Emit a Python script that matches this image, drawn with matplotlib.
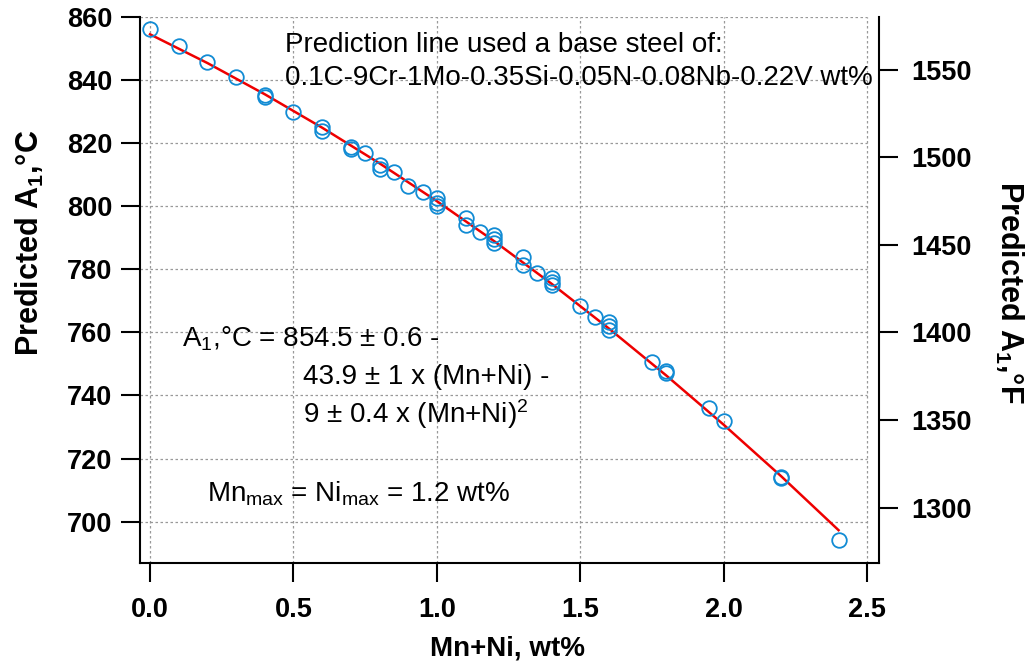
import numpy as np
import matplotlib
matplotlib.use('Agg')
import matplotlib.pyplot as plt

plt.rcParams['font.family'] = ['Liberation Sans', 'DejaVu Sans']
plt.rcParams['mathtext.fontset'] = 'custom'
plt.rcParams['mathtext.rm'] = 'Liberation Sans'
plt.rcParams['mathtext.it'] = 'Liberation Sans:italic'
plt.rcParams['mathtext.bf'] = 'Liberation Sans:bold'
plt.rcParams['mathtext.default'] = 'regular'

# data points (Mn+Ni, predicted A1 in C)
mn_ni = [0.0, 0.1, 0.2, 0.3, 0.4, 0.4, 0.5, 0.6, 0.6, 0.7, 0.7, 0.75, 0.8, 0.8,
         0.85, 0.9, 0.95, 1.0, 1.0, 1.0, 1.1, 1.1, 1.15, 1.2, 1.2, 1.2, 1.3, 1.3,
         1.35, 1.4, 1.4, 1.4, 1.5, 1.55, 1.6, 1.6, 1.6, 1.75, 1.8, 1.8, 1.95, 2.0,
         2.2, 2.2, 2.4]
a1_c = [856.2, 850.8, 845.7, 841.0, 835.4, 834.7, 830.0, 825.0, 823.7, 818.9,
        818.3, 816.8, 813.2, 811.9, 810.8, 806.3, 804.4, 802.7, 801.1, 800.1,
        796.2, 793.9, 791.7, 790.9, 789.5, 788.2, 783.8, 781.4, 778.7, 777.2,
        776.1, 775.0, 768.4, 765.0, 763.2, 762.0, 760.9, 750.7, 747.9, 747.1,
        736.1, 731.9, 714.2, 713.7, 694.2]

# prediction line
fit_x = [0.0, 0.2, 0.4, 0.6, 0.8, 1.0, 1.2, 1.4, 1.6, 1.8, 2.0, 2.2, 2.4]
fit_y = [854.5, 845.4, 835.5, 824.9, 813.6, 801.6, 788.9, 775.4, 761.2, 746.3,
         730.7, 714.4, 697.3]

x_ticks = [0.0, 0.5, 1.0, 1.5, 2.0, 2.5]
y_ticks = [700, 720, 740, 760, 780, 800, 820, 840, 860]
f_ticks = [1300, 1350, 1400, 1450, 1500, 1550]

ylo, yhi = 686.9, 860.0

fig = plt.figure(figsize=(10.29, 6.66), dpi=100)
ax = fig.add_axes([0.1356, 0.1547, 0.7189, 0.8198])
ax.set_xlim(-0.0366, 2.542)
ax.set_ylim(ylo, yhi)

grid_kw = dict(color='#999999', linewidth=0.9, linestyle=(0, (2, 2)), zorder=0)
ax.hlines(y_ticks, ax.get_xlim()[0], x_ticks[-1], **grid_kw)
ax.vlines(x_ticks, ylo, yhi, **grid_kw)

ax.plot(fit_x, fit_y, color='#ee0000', linewidth=1.8, zorder=2)
ax.plot(mn_ni, a1_c, linestyle='none', marker='o', markersize=10.5,
        markerfacecolor='none', markeredgecolor='#118bd4', markeredgewidth=1.3,
        clip_on=False, zorder=3)

ax.set_xticks(x_ticks, labels=[f'{v:.1f}' for v in x_ticks], fontweight='bold')
ax.set_yticks(y_ticks, labels=[str(v) for v in y_ticks], fontweight='bold')
ax.tick_params(axis='both', direction='out', length=13.7, width=1.5, labelsize=19.5)
ax.tick_params(axis='x', pad=11)
ax.tick_params(axis='y', pad=6)
ax.spines['top'].set_visible(False)
ax.spines['right'].set_visible(False)
for s in ['left', 'bottom']:
    ax.spines[s].set_linewidth(1.5)

ax2 = ax.twinx()
ax2.set_ylim(ylo * 1.8 + 32, yhi * 1.8 + 32)
ax2.set_yticks(f_ticks, labels=[str(v) for v in f_ticks], fontweight='bold')
ax2.tick_params(axis='y', direction='out', length=13.7, width=1.5, labelsize=19.5, pad=9)
for s in ['top', 'left', 'bottom']:
    ax2.spines[s].set_visible(False)
ax2.spines['right'].set_linewidth(1.5)

ax.set_xlabel('Mn+Ni, wt%', fontsize=20, fontweight='bold', va='center')
ax.xaxis.set_label_coords(0.498, -0.156)
ax.set_ylabel(r'Predicted A$_\mathbf{1}$,°C', fontsize=22, fontweight='bold', va='center')
ax.yaxis.set_label_coords(-0.148, 0.586)
ax2.set_ylabel(r'Predicted A$_\mathbf{1}$,°F', fontsize=22, fontweight='bold',
               rotation=270, va='center')
ax2.yaxis.set_label_coords(1.176, 0.495)

tkw = dict(transform=ax.transAxes, fontsize=20, va='baseline', ha='left')
ax.text(0.1967, 0.9359, 'Prediction line used a base steel of:', **tkw)
ax.text(0.1967, 0.8755, '0.1C-9Cr-1Mo-0.35Si-0.05N-0.08Nb-0.22V wt%', **tkw)
ax.text(0.0570, 0.3956, r'A$_1$,°C = 854.5 ± 0.6 -', **tkw)
ax.text(0.2214, 0.3278, '43.9 ± 1 x (Mn+Ni) -', **tkw)
ax.text(0.2214, 0.2559, r'9 ± 0.4 x (Mn+Ni)$^2$', **tkw)
ax.text(0.0908, 0.1123, r'Mn$_{max}$ = Ni$_{max}$ = 1.2 wt%', **tkw)

fig.savefig('out.png', dpi=100)
